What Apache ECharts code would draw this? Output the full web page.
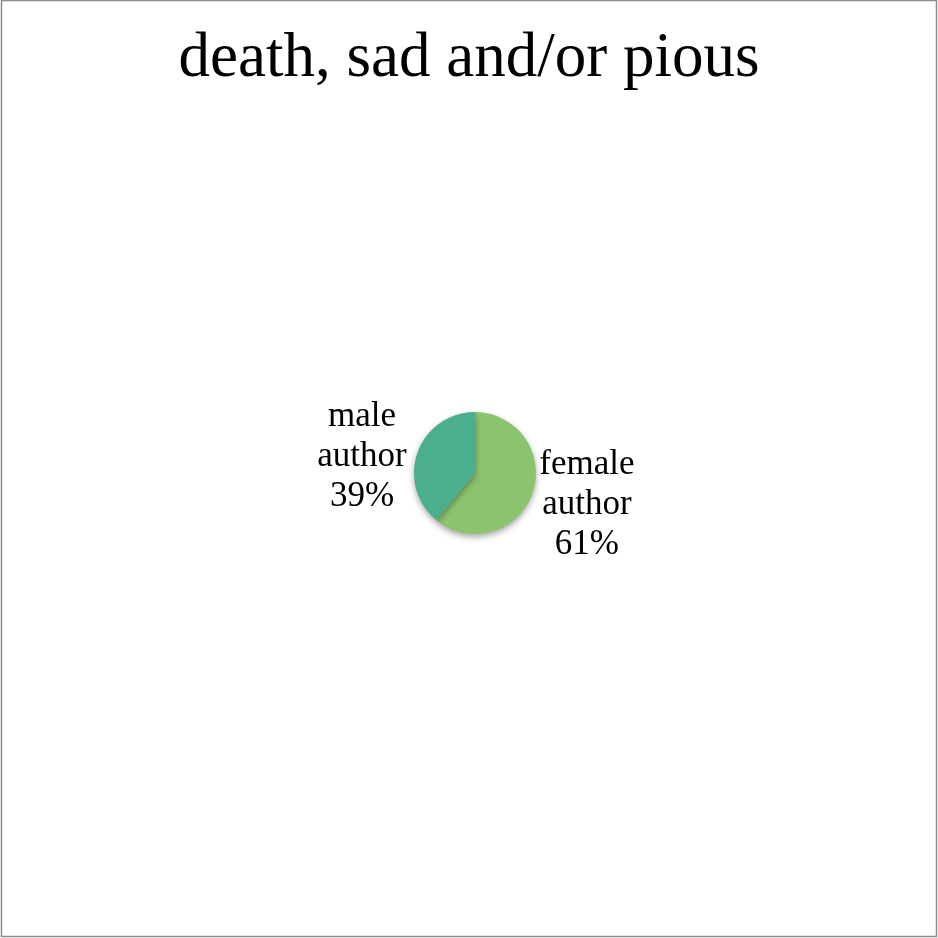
<!DOCTYPE html>
<html>
<head>
<meta charset="utf-8">
<script src="https://cdn.jsdelivr.net/npm/echarts@6/dist/echarts.min.js"></script>
<style>html,body{margin:0;padding:0;background:#fff}#c{width:938px;height:938px}</style>
</head>
<body>
<div id="c"></div>
<script>
const titleText = 'death, sad and/or pious';
const categories = ['female\nauthor', 'male\nauthor'];
const values = [61, 39];
const colors = ['#8cc36f', '#4bae8e'];

const chart = echarts.init(document.getElementById('c'));
chart.setOption({
  backgroundColor: '#ffffff',
  title: {
    text: titleText,
    left: 'center',
    top: 23,
    textStyle: {fontFamily: 'Liberation Serif', fontSize: 63, fontWeight: 'normal', color: '#000'}
  },
  graphic: [{
    type: 'rect',
    shape: {x: 1.5, y: 0.5, width: 935, height: 936},
    style: {fill: 'none', stroke: '#8c8c8c', lineWidth: 1.5},
    silent: true
  }],
  series: [{
    type: 'pie',
    center: [475, 473],
    radius: 61,
    startAngle: 90,
    clockwise: true,
    animation: false,
    data: categories.map((c, i) => ({name: c, value: values[i], itemStyle: {color: colors[i]}})),
    itemStyle: {shadowBlur: 6, shadowOffsetY: 3, shadowColor: 'rgba(0,0,0,0.35)'},
    label: {
      show: true,
      position: 'outside',
      formatter: p => p.name + '\n' + p.value + '%',
      fontFamily: 'Liberation Serif',
      fontSize: 35,
      lineHeight: 40,
      color: '#000'
    },
    labelLine: {show: false, length: 2, length2: 0},
    labelLayout: function (params) {
      const r = params.labelRect;
      const left = params.dataIndex === 1;
      return {
        x: r.x + r.width / 2 + (left ? -4 : 0),
        y: r.y + r.height / 2 + (left ? 5 : 10),
        align: 'center',
        verticalAlign: 'middle'
      };
    }
  }]
});
</script>
</body>
</html>
